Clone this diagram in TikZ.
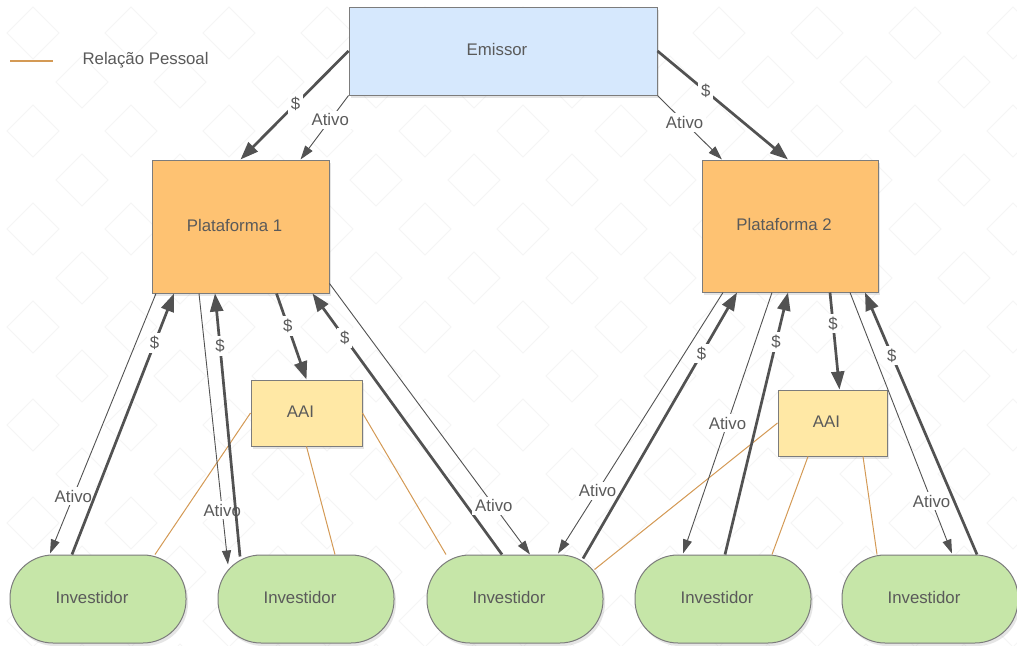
\documentclass[tikz,border=0pt]{standalone}
\usepackage{fontspec}
\setmainfont{Liberation Sans}
\usetikzlibrary{arrows.meta,shadows}
\definecolor{txtgray}{HTML}{5A5A5A}
\definecolor{arrgray}{HTML}{525252}
\definecolor{bordergray}{HTML}{7C7C7C}
\definecolor{emfill}{HTML}{D6E8FD}
\definecolor{platfill}{HTML}{FEC272}
\definecolor{aaifill}{HTML}{FFE8A5}
\definecolor{invfill}{HTML}{C6E6A8}
\definecolor{relcol}{HTML}{D49A55}
\definecolor{patcol}{HTML}{F5F5F5}
\newcommand\dfont{\fontsize{16.8}{19}\selectfont}
\newcommand\up[1]{\raisebox{3pt}{#1}\hspace*{12pt}}
\tikzset{
  box/.style={draw=bordergray, line width=1pt, text=txtgray, font=\dfont, inner sep=0pt,
    drop shadow={opacity=0.2, shadow xshift=2pt, shadow yshift=-3pt}},
  invbox/.style={box, fill=invfill, rounded corners=43pt, minimum width=176pt, minimum height=88pt},
  money/.style={draw=arrgray, line width=2.7pt, -{Triangle[length=18pt,width=13pt]}},
  asset/.style={draw=arrgray, line width=0.9pt, -{Triangle[length=14pt,width=9pt]}},
  rel/.style={draw=relcol, line width=1pt},
  lbl/.style={fill=white, inner sep=3pt, text=txtgray, font=\dfont},
}
\begin{document}
\begin{tikzpicture}[x=1pt,y=-1pt]
\useasboundingbox (0,0) rectangle (1017,645);
\fill[white] (0,0) rectangle (1017,645);
% faint background pattern
\begin{scope}
\clip (0,0) rectangle (1017,645);
\foreach \j in {0,...,13}{
  \foreach \i in {0,...,21}{
    \pgfmathsetmacro{\cx}{33+98*\i/2}
    \pgfmathsetmacro{\cy}{33+49*\j}
    \pgfmathtruncatemacro{\myparity}{mod(\i+\j,2)}
    \ifnum\myparity=0
      \draw[patcol, line width=0.9pt] (\cx-26,\cy) -- (\cx,\cy-26) -- (\cx+26,\cy) -- (\cx,\cy+26) -- cycle;
    \fi
  }
}
\end{scope}

% legend
\coordinate (lg1) at (10,61);
\coordinate (lg2) at (53,61);
\draw[rel, line width=1.2pt] (lg1) -- (lg2);
\node[text=txtgray, font=\dfont, anchor=west] (lgtxt) at (79,60) {\raisebox{3pt}{Relação Pessoal}};

% nodes
\node[box, fill=emfill, minimum width=308pt, minimum height=88pt] (e) at (503,51) {\up{Emissor}};
\node[box, fill=platfill, minimum width=177pt, minimum height=133pt] (p1) at (240.5,226.5) {\up{Plataforma 1}};
\node[box, fill=platfill, minimum width=176pt, minimum height=132pt] (p2) at (790,226) {\up{Plataforma 2}};
\node[box, fill=aaifill, minimum width=111pt, minimum height=66pt] (a1) at (306.5,413) {\up{AAI}};
\node[box, fill=aaifill, minimum width=109pt, minimum height=66pt] (a2) at (832.5,423) {\up{AAI}};
\node[invbox] (i1) at (98,599) {\up{Investidor}};
\node[invbox] (i2) at (306,599) {\up{Investidor}};
\node[invbox] (i3) at (515,599) {\up{Investidor}};
\node[invbox] (i4) at (723,599) {\up{Investidor}};
\node[invbox] (i5) at (930,599) {\up{Investidor}};

% personal relations
\draw[rel] (a1.west) -- ([xshift=57pt]i1.north);
\draw[rel] (a1.south) -- ([xshift=29pt]i2.north);
\draw[rel] (a1.east) -- ([xshift=-69pt]i3.north);
\draw[rel] (a2.west) -- ([shift={(-9pt,-15pt)}]i3.north east);
\draw[rel] ([xshift=-24.5pt]a2.south) -- ([xshift=49pt]i4.north);
\draw[rel] ([xshift=30.5pt]a2.south) -- ([xshift=-53pt]i5.north);

% emissor -> plataformas
\draw[money] (e.west) -- node[lbl, pos=0.49] {\$} (p1.north);
\draw[asset] (e.south west) -- node[lbl, pos=0.38] {Ativo} ([xshift=60pt]p1.north);
\draw[money] (e.east) -- node[lbl, pos=0.37] {\$} ([xshift=-2pt]p2.north);
\draw[asset] (e.south east) -- node[lbl, pos=0.42] {Ativo} ([xshift=-68pt]p2.north);

% plataforma 1
\draw[asset] ([xshift=-84.5pt]p1.south) -- node[lbl, pos=0.78] {Ativo} ([shift={(-48pt,1pt)}]i1.north);
\draw[money] ([xshift=-26pt]i1.north) -- node[lbl, pos=0.81] {\$} ([xshift=-66.5pt]p1.south);
\draw[asset] ([xshift=-41.5pt]p1.south) -- node[lbl, pos=0.8] {Ativo} ([shift={(-78pt,-10pt)}]i2.north);
\draw[money] ([shift={(-66pt,-2pt)}]i2.north) -- node[lbl, pos=0.8] {\$} ([xshift=-25.5pt]p1.south);
\draw[money] ([xshift=36pt]p1.south) -- node[lbl, pos=0.38] {\$} (a1.north);
\draw[money] ([xshift=-13pt]i3.north) -- node[lbl, pos=0.83] {\$} ([xshift=72pt]p1.south);
\draw[asset] ([yshift=10pt]p1.south east) -- node[lbl, pos=0.82] {Ativo} ([xshift=15pt]i3.north);

% plataforma 2
\draw[asset] ([xshift=-67pt]p2.south) -- node[lbl, pos=0.76] {Ativo} ([shift={(43pt,1pt)}]i3.north);
\draw[money] ([shift={(68pt,-4pt)}]i3.north) -- node[lbl, pos=0.77] {\$} ([xshift=-53pt]p2.south);
\draw[asset] ([xshift=-18pt]p2.south) -- node[lbl, pos=0.5] {Ativo} ([shift={(-40pt,1pt)}]i4.north);
\draw[money] ([xshift=2pt]i4.north) -- node[lbl, pos=0.81] {\$} ([xshift=-2pt]p2.south);
\draw[money] ([xshift=40pt]p2.south) -- node[lbl, pos=0.32] {\$} ([xshift=7pt]a2.north);
\draw[asset] ([xshift=60pt]p2.south) -- node[lbl, pos=0.8] {Ativo} ([shift={(22pt,1pt)}]i5.north);
\draw[money] ([xshift=47pt]i5.north) -- node[lbl, pos=0.76] {\$} ([xshift=75pt]p2.south);
\end{tikzpicture}
\end{document}
